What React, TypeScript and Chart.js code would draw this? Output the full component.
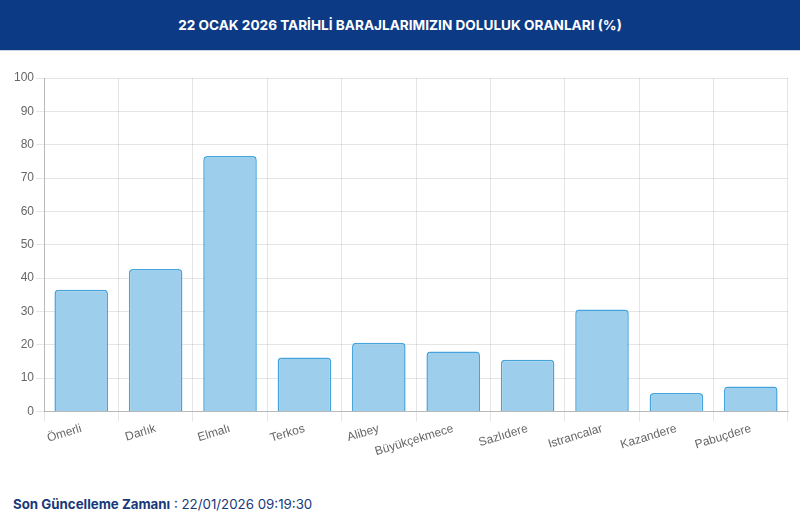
import { useRef, useEffect } from "react";
import Chart from "chart.js/auto";

const dams = [
  "Ömerli",
  "Darlık",
  "Elmalı",
  "Terkos",
  "Alibey",
  "Büyükçekmece",
  "Sazlıdere",
  "Istrancalar",
  "Kazandere",
  "Pabuçdere",
];
const fillRates = [36.5, 42.7, 76.6, 16.2, 20.6, 18.0, 15.5, 30.6, 5.5, 7.5];

const title = "22 OCAK 2026 TARİHLİ BARAJLARIMIZIN DOLULUK ORANLARI (%)";
const updatedLabel = "Son Güncelleme Zamanı";
const updatedAt = "22/01/2026 09:19:30";

const App = () => {
  const chartRef = useRef<HTMLCanvasElement>(null);
  const chartInstanceRef = useRef<Chart | null>(null);

  useEffect(() => {
    document.body.style.margin = "0";
    if (!chartRef.current) return;
    if (chartInstanceRef.current) {
      chartInstanceRef.current.destroy();
    }
    chartInstanceRef.current = new Chart(chartRef.current, {
      type: "bar",
      data: {
        labels: dams,
        datasets: [
          {
            label: "Doluluk",
            data: fillRates,
            backgroundColor: "#9dcfec",
            borderColor: "#45a3dd",
            borderWidth: 1.5,
            borderRadius: 4,
            borderSkipped: "bottom",
          },
        ],
      },
      options: {
        animation: false,
        responsive: true,
        maintainAspectRatio: false,
        layout: { padding: { left: 12, right: 12, top: 12, bottom: 0 } },
        plugins: {
          legend: { display: false },
          tooltip: { enabled: false },
        },
        scales: {
          x: {
            grid: {
              // no line at the right edge, like the original
              color: (ctx) => (ctx.index === dams.length ? "transparent" : "rgba(0,0,0,0.1)"),
              tickLength: 10,
            },
            border: { color: "rgba(0,0,0,0.2)" },
            ticks: {
              color: "#666",
              font: { family: "Liberation Sans, Arial", size: 12 },
              minRotation: 17,
              maxRotation: 17,
              padding: 0,
            },
          },
          y: {
            min: 0,
            max: 100,
            grid: { color: "rgba(0,0,0,0.1)", tickLength: 8 },
            border: { color: "rgba(0,0,0,0.2)" },
            ticks: {
              stepSize: 10,
              color: "#666",
              font: { family: "Liberation Sans, Arial", size: 12 },
              padding: 2,
            },
          },
        },
      },
    });

    return () => {
      chartInstanceRef.current?.destroy();
    };
  }, []);

  return (
    <div style={{ width: 800, height: 528, background: "#fff", position: "relative", fontFamily: "Inter, sans-serif" }}>
      <div
        style={{
          height: 51,
          background: "#0d3a85",
          borderBottom: "1px solid #c9d3e4",
          color: "#fff",
          fontWeight: 700,
          fontSize: 13.6,
          display: "flex",
          alignItems: "center",
          justifyContent: "center",
          boxSizing: "border-box",
        }}
      >
        {title}
      </div>
      <div style={{ position: "absolute", left: 0, top: 66, width: 800, height: 393 }}>
        <canvas ref={chartRef} />
      </div>
      <div style={{ position: "absolute", left: 13, top: 496, fontSize: 13.3, color: "#17397a" }}>
        <span style={{ fontWeight: 700 }}>{updatedLabel}</span> : {updatedAt}
      </div>
    </div>
  );
};

export default App;
